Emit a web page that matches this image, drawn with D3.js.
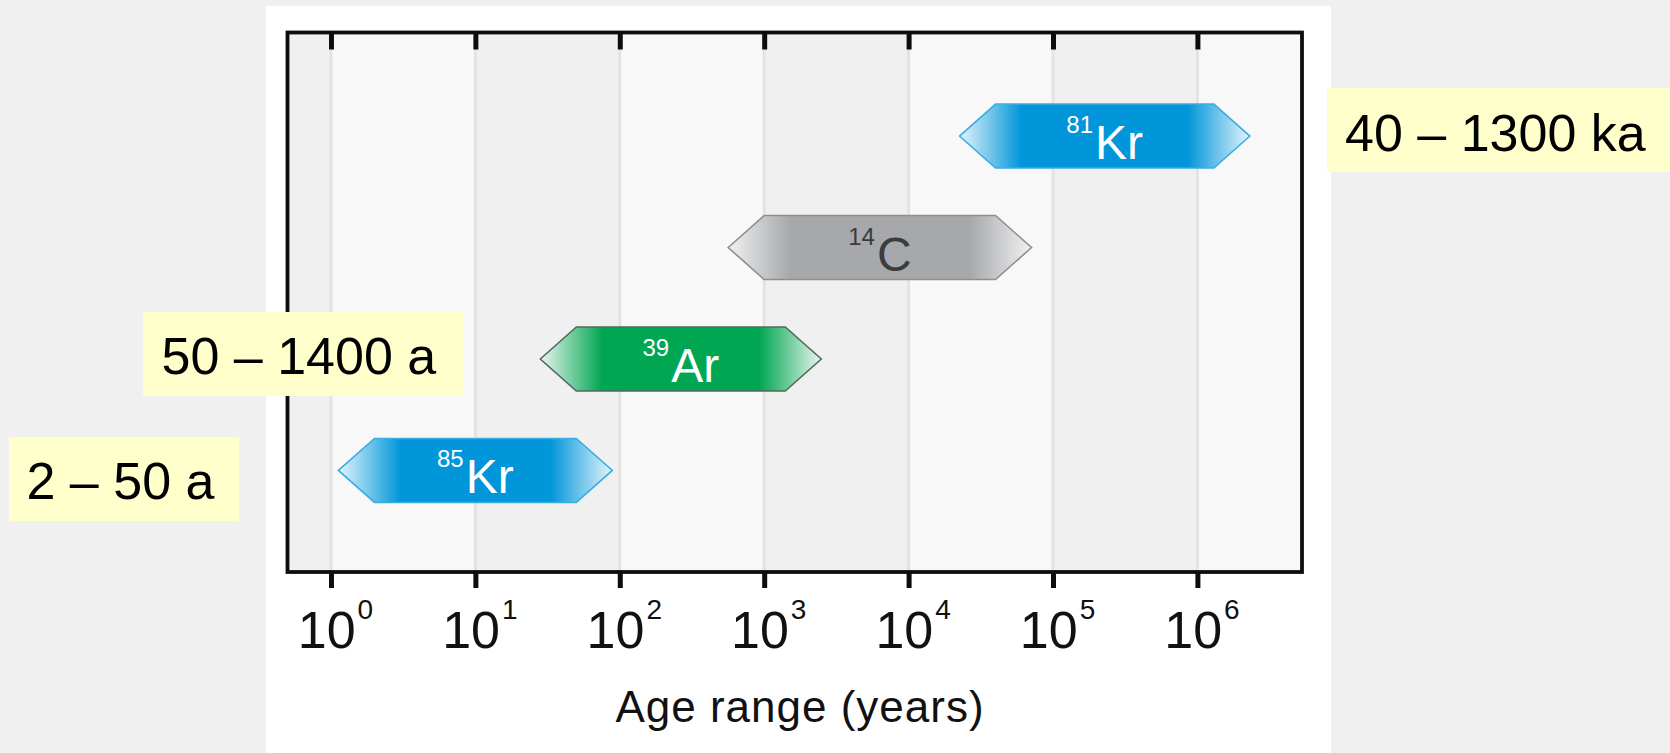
<!DOCTYPE html>
<html>
<head>
<meta charset="utf-8">
<script src="https://cdn.jsdelivr.net/npm/d3@7"></script>
<style>
  html, body { margin: 0; padding: 0; background: #f0f0f0; }
  svg { display: block; }
  text { font-family: "Liberation Sans", Arial, Helvetica, sans-serif; }
</style>
</head>
<body>
<svg id="chart" width="1670" height="753"></svg>
<script>
// Groundwater dating tracers, listed from the top row down
const isotopes     = ["81Kr", "14C", "39Ar", "85Kr"];
const massNumbers  = ["81", "14", "39", "85"];
const elements     = ["Kr", "C", "Ar", "Kr"];
// Applicable age range of each tracer, in years
const ageMin       = [40000, 1000, 50, 2];
const ageMax       = [1300000, 40000, 1400, 50];
// Range call-outs (null = no call-out)
const rangeLabels  = ["40 – 1300 ka", null, "50 – 1400 a", "2 – 50 a"];
// Decade ticks of the log axis
const decadeTicks  = [1, 10, 100, 1000, 10000, 100000, 1000000];
const tickExponents = ["0", "1", "2", "3", "4", "5", "6"];
const axisTitle    = "Age range (years)";

// ---- styling / layout ----
const palette = [
  { solid: "#0096d9", light: "#e4f4fc", stroke: "#3aade2", text: "#ffffff" },
  { solid: "#a6a8ab", light: "#f1f1f1", stroke: "#8e8e8e", text: "#3c3c3c" },
  { solid: "#00a651", light: "#e9f6ee", stroke: "#53695f", text: "#ffffff" },
  { solid: "#0096d9", light: "#e4f4fc", stroke: "#3aade2", text: "#ffffff" }
];
const calloutLayout = [
  { x0: 1327, x1: 1670, dy: -6,  tx: 1345 },
  null,
  { x0: 143,  x1: 463,  dy: -5,  tx: 161.5 },
  { x0: 9,    x1: 239,  dy: 8.5, tx: 26.5 }
];
const calloutHeight = 84;

const svg = d3.select("#chart");
const panel = { x: 266, y: 6, w: 1065, h: 760 };
const plot = { left: 287.5, right: 1302, top: 32.5, bottom: 572 };
const barH = 64, tipDepth = 36, fadeLen = 62;

const x = d3.scaleLog().domain([0.5, 5.3e6]).range([plot.left, plot.right]);
const y = d3.scalePoint().domain(isotopes).range([plot.top + 1, plot.bottom + 1]).padding(0.92);

// white card behind the chart
svg.append("rect")
  .attr("x", panel.x).attr("y", panel.y)
  .attr("width", panel.w).attr("height", panel.h)
  .attr("fill", "#ffffff");

// alternating decade bands
const edges = [x.domain()[0], ...decadeTicks, x.domain()[1]];
svg.append("g").selectAll("rect")
  .data(d3.pairs(edges))
  .join("rect")
  .attr("x", d => x(d[0]))
  .attr("y", plot.top)
  .attr("width", d => x(d[1]) - x(d[0]))
  .attr("height", plot.bottom - plot.top)
  .attr("fill", (d, i) => i % 2 === 0 ? "#f0f0f0" : "#f8f8f8");

// decade grid lines
svg.append("g").selectAll("line")
  .data(decadeTicks)
  .join("line")
  .attr("x1", d => x(d)).attr("x2", d => x(d))
  .attr("y1", plot.top).attr("y2", plot.bottom)
  .attr("stroke", "#e3e3e3")
  .attr("stroke-width", 3);

// frame
svg.append("rect")
  .attr("x", plot.left).attr("y", plot.top)
  .attr("width", plot.right - plot.left)
  .attr("height", plot.bottom - plot.top)
  .attr("fill", "none")
  .attr("stroke", "#0d0d0d")
  .attr("stroke-width", 3.8);

// top axis: inward ticks only
const topAxis = svg.append("g")
  .attr("transform", `translate(0,${plot.top})`)
  .call(d3.axisTop(x).tickValues(decadeTicks).tickSizeInner(-17).tickSizeOuter(0).tickFormat(() => ""));
topAxis.select(".domain").remove();
topAxis.selectAll(".tick line").attr("stroke", "#0d0d0d").attr("stroke-width", 5);

// bottom axis: outward ticks with power-of-ten labels
const botAxis = svg.append("g")
  .attr("transform", `translate(0,${plot.bottom})`)
  .call(d3.axisBottom(x).tickValues(decadeTicks).tickSizeInner(16).tickSizeOuter(0).tickFormat(() => ""));
botAxis.select(".domain").remove();
botAxis.selectAll(".tick line").attr("stroke", "#0d0d0d").attr("stroke-width", 5);
botAxis.selectAll(".tick text").each(function(d, i) {
  const t = d3.select(this)
    .attr("y", 76).attr("dy", 0).attr("dx", 4)
    .attr("fill", "#111")
    .attr("text-anchor", "middle")
    .style("font-size", "52px");
  t.append("tspan").text("10");
  t.append("tspan").attr("dy", -29).attr("dx", 2)
    .style("font-size", "28px").text(tickExponents[i]);
});

// axis title
svg.append("text")
  .attr("x", 800).attr("y", 721.5)
  .attr("text-anchor", "middle")
  .attr("fill", "#111")
  .style("font-size", "44px")
  .style("letter-spacing", "1px")
  .text(axisTitle);

// range arrows
const defs = svg.append("defs");
const bars = isotopes.map((iso, i) => {
  const xl = x(ageMin[i]), xr = x(ageMax[i]), ym = y(iso);
  return { iso, i, xl, xr, ym, a: xl - tipDepth, b: xr + tipDepth };
});

bars.forEach(d => {
  const c = palette[d.i];
  const f = fadeLen / (d.b - d.a);
  const g = defs.append("linearGradient")
    .attr("id", "fade" + d.i)
    .attr("gradientUnits", "userSpaceOnUse")
    .attr("x1", d.a).attr("x2", d.b).attr("y1", 0).attr("y2", 0);
  [[0, c.light], [f, c.solid], [1 - f, c.solid], [1, c.light]].forEach(([o, col]) =>
    g.append("stop").attr("offset", o).attr("stop-color", col));
});

const arrowPath = d => {
  const p = d3.path(), h = barH / 2;
  p.moveTo(d.a, d.ym);
  p.lineTo(d.xl, d.ym - h);
  p.lineTo(d.xr, d.ym - h);
  p.lineTo(d.b, d.ym);
  p.lineTo(d.xr, d.ym + h);
  p.lineTo(d.xl, d.ym + h);
  p.closePath();
  return p.toString();
};

const barG = svg.append("g").selectAll("g").data(bars).join("g");
barG.append("path")
  .attr("d", arrowPath)
  .attr("fill", d => `url(#fade${d.i})`)
  .attr("stroke", d => palette[d.i].stroke)
  .attr("stroke-width", 1.6)
  .attr("stroke-linejoin", "miter");

const lbl = barG.append("text")
  .attr("x", d => (d.xl + d.xr) / 2)
  .attr("y", d => d.ym + 23)
  .attr("text-anchor", "middle")
  .attr("fill", d => palette[d.i].text);
lbl.append("tspan")
  .attr("dy", -26)
  .style("font-size", "24px")
  .text(d => massNumbers[d.i]);
lbl.append("tspan")
  .attr("dy", 26).attr("dx", 2)
  .style("font-size", "48px")
  .text(d => elements[d.i]);

// range call-outs
const callouts = bars.filter(d => rangeLabels[d.i] !== null);
const cg = svg.append("g").selectAll("g").data(callouts).join("g");
cg.append("rect")
  .attr("x", d => calloutLayout[d.i].x0)
  .attr("y", d => d.ym + calloutLayout[d.i].dy - calloutHeight / 2)
  .attr("width", d => calloutLayout[d.i].x1 - calloutLayout[d.i].x0)
  .attr("height", calloutHeight)
  .attr("fill", "#ffffcc");
cg.append("text")
  .attr("x", d => calloutLayout[d.i].tx)
  .attr("y", d => d.ym + calloutLayout[d.i].dy + 20.5)
  .attr("fill", "#000")
  .style("font-size", "52px")
  .text(d => rangeLabels[d.i]);
</script>
</body>
</html>
